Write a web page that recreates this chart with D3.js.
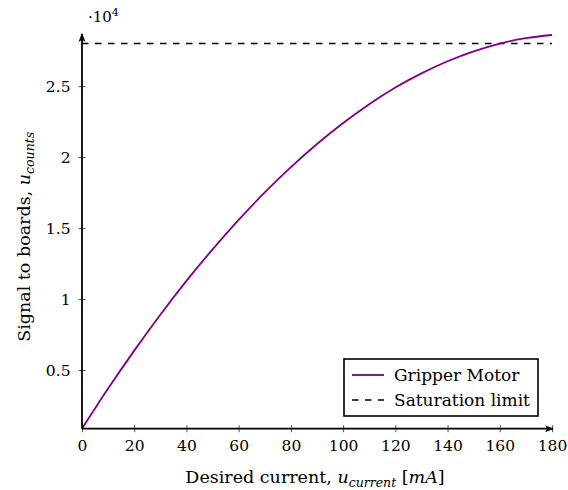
<!DOCTYPE html>
<html>
<head>
<meta charset="utf-8">
<script src="https://cdn.jsdelivr.net/npm/d3@7"></script>
<style>
  body { margin: 0; background: #fff; }
</style>
</head>
<body>
<svg id="chart" width="568" height="490" font-family="'DejaVu Serif', serif"></svg>
<script>
// current in mA
const current = [0, 10, 20, 30, 40, 50, 60, 70, 80, 90, 100, 110, 120, 130, 140, 150, 160, 170, 180]
// board counts
const counts = [870, 3700, 6370, 8900, 11280, 13500, 15580, 17510, 19290, 20920, 22400, 23730, 24900, 25900, 26750, 27450, 28000, 28380, 28600]
const saturation = 28000
const xTicks = [0, 20, 40, 60, 80, 100, 120, 140, 160, 180]
const yTicks = [5000, 10000, 15000, 20000, 25000]
const legendNames = ["Gripper Motor", "Saturation limit"]

const FONT = "'DejaVu Serif', serif"
const svg = d3.select("#chart")
const margin = { top: 35, right: 16, bottom: 61.3, left: 82 }
const width = +svg.attr("width") - margin.left - margin.right
const height = +svg.attr("height") - margin.top - margin.bottom
const purple = "#800080"

const x = d3.scaleLinear().domain([0, 180]).range([0, width])
const y = d3.scaleLinear().domain([870, 28600]).range([height, 0])

const g = svg.append("g").attr("transform", "translate(" + margin.left + "," + margin.top + ")")

const defs = svg.append("defs")
defs.append("marker")
    .attr("id", "arrow")
    .attr("viewBox", "0 0 10 10")
    .attr("refX", 9).attr("refY", 5)
    .attr("markerWidth", 5).attr("markerHeight", 5)
    .attr("orient", "auto")
    .append("path")
    .attr("d", "M0,1 Q4,5 0,9 L10,5 Z")
    .attr("fill", "#000")

// ticks (crossing the axis line)
g.append("g")
    .attr("transform", "translate(0," + height + ")")
    .call(d3.axisBottom(x).tickValues(xTicks).tickSize(3.5).tickPadding(8))
    .attr("font-family", FONT)
    .call(a => a.select(".domain").remove())
    .call(a => a.selectAll(".tick line").attr("y1", -3.5).attr("stroke", "#555"))
    .call(a => a.selectAll("text").style("font-size", "15.5px").attr("fill", "#000"))

g.append("g")
    .call(d3.axisLeft(y).tickValues(yTicks).tickSize(3.5).tickPadding(8).tickFormat(d => d3.format("")(d / 10000)))
    .attr("font-family", FONT)
    .call(a => a.select(".domain").remove())
    .call(a => a.selectAll(".tick line").attr("x1", 3.5).attr("stroke", "#555"))
    .call(a => a.selectAll("text").style("font-size", "15.5px").attr("fill", "#000"))

// saturation
g.append("line")
    .attr("x1", x(0)).attr("x2", x(180))
    .attr("y1", y(saturation)).attr("y2", y(saturation))
    .attr("stroke", "#000").attr("stroke-width", 1.6)
    .attr("stroke-dasharray", "6.5,6.5")

const line = d3.line()
    .x((d, i) => x(current[i]))
    .y(d => y(d))
    .curve(d3.curveMonotoneX)

g.append("path")
    .datum(counts)
    .attr("d", line)
    .attr("fill", "none")
    .attr("stroke", purple)
    .attr("stroke-width", 1.8)

// axis lines with arrows
g.append("line")
    .attr("x1", 0).attr("x2", width + 1)
    .attr("y1", height).attr("y2", height)
    .attr("stroke", "#000").attr("stroke-width", 1.8)
    .attr("marker-end", "url(#arrow)")
g.append("line")
    .attr("x1", 0).attr("x2", 0)
    .attr("y1", height).attr("y2", -1)
    .attr("stroke", "#000").attr("stroke-width", 1.8)
    .attr("marker-end", "url(#arrow)")

// exponent
const ex = svg.append("text").attr("x", 88).attr("y", 22).style("font-size", "15px")
ex.append("tspan").text("·10")
ex.append("tspan").attr("dy", -6).style("font-size", "11px").text("4")

// x label
const xl = svg.append("text")
    .attr("x", margin.left + width / 2 - 2).attr("y", 483)
    .attr("text-anchor", "middle").style("font-size", "17.5px")
xl.append("tspan").text("Desired current, ")
xl.append("tspan").style("font-style", "italic").text("u")
xl.append("tspan").attr("dy", 4).style("font-style", "italic").style("font-size", "12.5px").text("current")
xl.append("tspan").attr("dy", -4).text(" [")
xl.append("tspan").style("font-style", "italic").text("mA")
xl.append("tspan").text("]")

// y label
const yl = svg.append("text")
    .attr("transform", "translate(30," + (margin.top + height / 2 + 5) + ") rotate(-90)")
    .attr("text-anchor", "middle").style("font-size", "17.5px")
yl.append("tspan").text("Signal to boards, ")
yl.append("tspan").style("font-style", "italic").text("u")
yl.append("tspan").attr("dy", 4).style("font-style", "italic").style("font-size", "12.5px").text("counts")

// legend
const lg = svg.append("g").attr("transform", "translate(344,359)")
lg.append("rect")
    .attr("width", 194).attr("height", 57)
    .attr("fill", "#fff").attr("stroke", "#000").attr("stroke-width", 1.6)
legendNames.forEach((name, i) => {
    const yy = 16 + i * 25
    lg.append("line")
        .attr("x1", 8).attr("x2", 40).attr("y1", yy).attr("y2", yy)
        .attr("stroke", i === 0 ? purple : "#000")
        .attr("stroke-width", i === 0 ? 1.8 : 1.6)
        .attr("stroke-dasharray", i === 0 ? null : "6.5,6.5")
    lg.append("text")
        .attr("x", 50).attr("y", yy + 6)
        .style("font-size", "17px")
        .text(name)
})
</script>
</body>
</html>
